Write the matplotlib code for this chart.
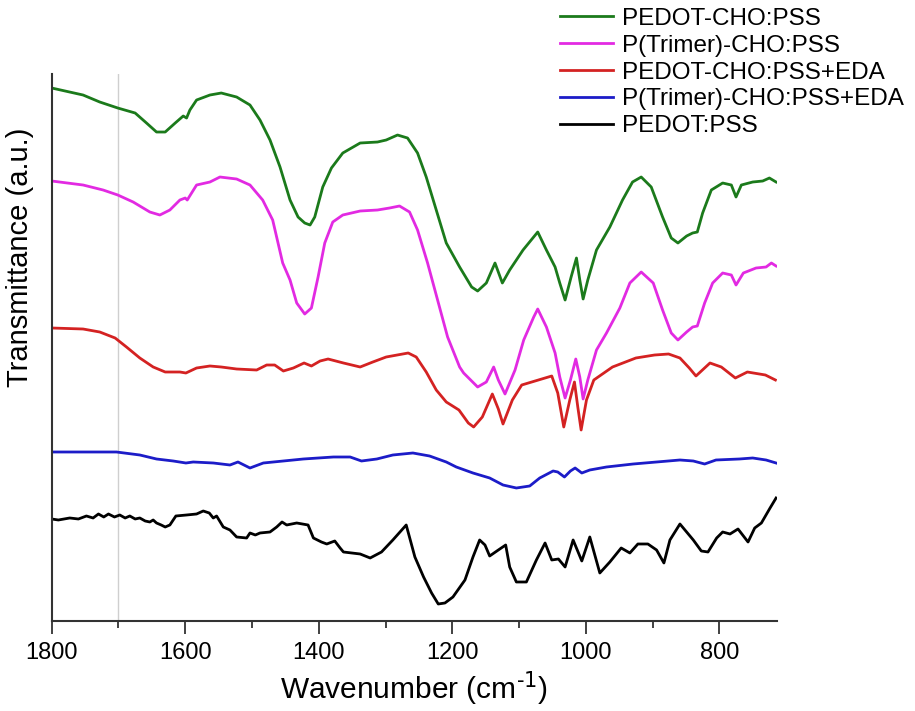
"""
FTIR spectra of PEDOT-CHO / P(Trimer)-CHO films with and without EDA.
Curves are vertically offset, transmittance in arbitrary units.
"""

import matplotlib
matplotlib.use("Agg")
import matplotlib.pyplot as plt

# wavenumber (cm-1) and offset transmittance (a.u.) for each spectrum
green_wn = [1800, 1753, 1728, 1701, 1675, 1658, 1643, 1630, 1615, 1603, 1598, 1593,
            1583, 1563, 1546, 1523, 1503, 1488, 1473, 1458, 1443, 1431, 1421, 1413,
            1406, 1394, 1381, 1364, 1338, 1312, 1299, 1282, 1267, 1252, 1239, 1224,
            1209, 1189, 1171, 1162, 1149, 1136, 1125, 1114, 1094, 1072, 1059, 1046,
            1039, 1031, 1022, 1014, 1009, 1004, 997, 984, 964, 945, 930, 917, 902,
            885, 872, 862, 849, 840, 833, 825, 812, 795, 782, 775, 767, 750, 735,
            725, 715]
green_t = [533, 526, 519, 513, 508, 498, 489, 489, 498, 505, 503, 511,
           521, 526, 528, 524, 516, 501, 481, 454, 421, 404, 398, 396,
           404, 434, 453, 468, 478, 479, 481, 486, 483, 468, 444, 411,
           378, 354, 334, 330, 338, 358, 338, 351, 371, 389, 371, 354,
           338, 321, 344, 363, 341, 322, 341, 371, 394, 421, 439, 444, 434,
           404, 383, 378, 385, 388, 389, 408, 431, 438, 436, 424, 436, 439, 440,
           443, 439]

magenta_wn = [1800, 1753, 1723, 1701, 1678, 1653, 1638, 1623, 1608, 1600, 1597, 1583,
              1563, 1548, 1523, 1503, 1484, 1469, 1454, 1443, 1433, 1421, 1411, 1401,
              1391, 1379, 1364, 1338, 1312, 1294, 1279, 1264, 1252, 1237, 1222, 1207,
              1189, 1183, 1162, 1149, 1138, 1131, 1121, 1106, 1093, 1078, 1072, 1059,
              1046, 1039, 1031, 1023, 1015, 1009, 1004, 997, 984, 969, 949, 934, 917,
              899, 885, 872, 862, 849, 840, 833, 822, 810, 795, 782, 775, 764, 745,
              730, 722, 715]
magenta_t = [440, 436, 431, 426, 419, 409, 406, 411, 421, 423, 421, 436,
             439, 444, 442, 436, 421, 401, 358, 341, 318, 307, 313, 344,
             378, 399, 406, 410, 411, 413, 415, 409, 391, 358, 321, 284,
             254, 248, 234, 239, 254, 241, 227, 251, 281, 304, 312, 294,
             268, 244, 223, 241, 262, 244, 222, 241, 271, 288, 313, 338, 349,
             338, 311, 288, 281, 289, 294, 295, 318, 338, 348, 346, 336, 348, 353,
             354, 358, 355]

red_wn = [1800, 1753, 1728, 1705, 1688, 1668, 1648, 1630, 1608, 1599, 1583, 1563,
          1546, 1523, 1493, 1478, 1466, 1453, 1438, 1422, 1411, 1398, 1386, 1363,
          1338, 1319, 1299, 1266, 1254, 1239, 1224, 1209, 1190, 1176, 1168, 1155,
          1140, 1131, 1124, 1110, 1096, 1071, 1051, 1042, 1033, 1024, 1017, 1012,
          1007, 999, 988, 960, 925, 897, 876, 859, 845, 835, 814, 797, 776, 758,
          731, 716]
red_t = [293, 292, 289, 283, 274, 263, 254, 249, 249, 248, 253, 255,
         254, 252, 251, 256, 256, 250, 253, 258, 255, 260, 262, 258,
         254, 259, 264, 268, 264, 249, 231, 219, 211, 198, 194, 204,
         227, 212, 197, 221, 236, 241, 245, 228, 194, 221, 239, 214,
         191, 221, 241, 254, 263, 266, 267, 263, 253, 245, 258, 254, 243, 249,
         246, 241]

blue_wn = [1800, 1703, 1668, 1643, 1618, 1599, 1588, 1558, 1533, 1521, 1503, 1483,
           1453, 1423, 1378, 1353, 1336, 1313, 1289, 1259, 1234, 1209, 1194, 1169,
           1144, 1124, 1104, 1084, 1069, 1049, 1042, 1032, 1023, 1016, 1006, 994,
           969, 929, 894, 859, 839, 822, 805, 770, 750, 730, 715]
blue_t = [169, 169, 166, 162, 160, 158, 159, 158, 156, 159, 153, 158,
          160, 162, 164, 164, 160, 162, 166, 168, 165, 159, 154, 148,
          143, 136, 133, 135, 143, 150, 149, 144, 150, 153, 148, 151,
          154, 157, 159, 161, 160, 157, 161, 162, 163, 161, 158]

black_wn = [1800, 1790, 1773, 1760, 1748, 1738, 1730, 1722, 1715, 1706, 1698, 1690,
            1683, 1675, 1668, 1660, 1653, 1648, 1643, 1636, 1630, 1623, 1614, 1598,
            1583, 1573, 1564, 1558, 1553, 1543, 1533, 1523, 1508, 1503, 1495, 1488,
            1473, 1463, 1455, 1448, 1433, 1416, 1408, 1396, 1388, 1376, 1368, 1363,
            1338, 1323, 1306, 1289, 1269, 1256, 1243, 1231, 1221, 1211, 1199, 1181,
            1169, 1159, 1151, 1144, 1131, 1120, 1114, 1104, 1089, 1074, 1061, 1051,
            1041, 1031, 1019, 1006, 994, 979, 964, 947, 934, 922, 907, 894, 883,
            874, 859, 849, 839, 827, 817, 804, 795, 784, 772, 757, 747, 737, 724, 715]
black_t = [102, 101, 103, 102, 105, 103, 107, 104, 107, 104, 106, 103,
           105, 102, 103, 100, 99, 101, 98, 96, 94, 96, 105, 106,
           107, 110, 108, 103, 105, 94, 91, 84, 83, 88, 86, 88,
           89, 94, 99, 96, 98, 96, 83, 79, 77, 80, 73, 69,
           67, 63, 69, 81, 96, 64, 44, 28, 17, 18, 24, 41,
           64, 81, 76, 65, 71, 76, 54, 39, 39, 61, 78, 61,
           62, 54, 81, 60, 84, 48, 59, 73, 68, 77, 77, 71, 58,
           81, 97, 89, 81, 70, 69, 83, 89, 87, 92, 79, 93, 98, 113, 123]

labels = ["PEDOT-CHO:PSS", "P(Trimer)-CHO:PSS", "PEDOT-CHO:PSS+EDA",
          "P(Trimer)-CHO:PSS+EDA", "PEDOT:PSS"]
colors = ["#1b7a1b", "#e22ae2", "#d42222", "#1c1cc8", "#000000"]
x_ticks = [1800, 1600, 1400, 1200, 1000, 800]
x_minor = [1700, 1500, 1300, 1100, 900]
marker_wn = 1700


def plot_spectra(save_path="out.png"):
    plt.rcParams["font.family"] = ["Liberation Sans", "DejaVu Sans"]

    fig = plt.figure(figsize=(9.15, 7.11), dpi=100)
    ax = fig.add_axes([0.0565, 0.1266, 0.7924, 0.7693])

    series = [(green_wn, green_t), (magenta_wn, magenta_t), (red_wn, red_t),
              (blue_wn, blue_t), (black_wn, black_t)]
    for (wn, t), label, color in zip(series, labels, colors):
        ax.plot(wn, t, color=color, lw=2.0, label=label)

    ax.axvline(marker_wn, color="#cfcfcf", lw=1.0, zorder=0)

    ax.set_xlim(1800, 714)
    ax.set_ylim(0, 547)
    ax.set_xticks(x_ticks)
    ax.set_xticks(x_minor, minor=True)
    ax.set_yticks([])

    for side in ["top", "right"]:
        ax.spines[side].set_visible(False)
    for side in ["left", "bottom"]:
        ax.spines[side].set_linewidth(1.5)
        ax.spines[side].set_color("#333333")

    ax.tick_params(axis="x", which="major", length=9, width=1.3, labelsize=17,
                   pad=6, color="#333333")
    ax.tick_params(axis="x", which="minor", length=5, width=1.3, color="#333333")

    ax.set_xlabel(r"Wavenumber (cm$^{\text{-1}}$)", fontsize=21.5, labelpad=4)
    ax.set_ylabel("Transmittance (a.u.)", fontsize=21)
    ax.yaxis.set_label_coords(-0.024, 0.665)

    handles, names = ax.get_legend_handles_labels()
    fig.legend(handles, names, loc="upper left", bbox_to_anchor=(560 / 915, 0.989),
               frameon=False, fontsize=17.5, handlelength=2.18, handletextpad=0.37,
               labelspacing=0.2, borderpad=0, borderaxespad=0)

    plt.savefig(save_path, dpi=100)
    plt.close()


def main():
    plot_spectra("out.png")


if __name__ == "__main__":
    main()
